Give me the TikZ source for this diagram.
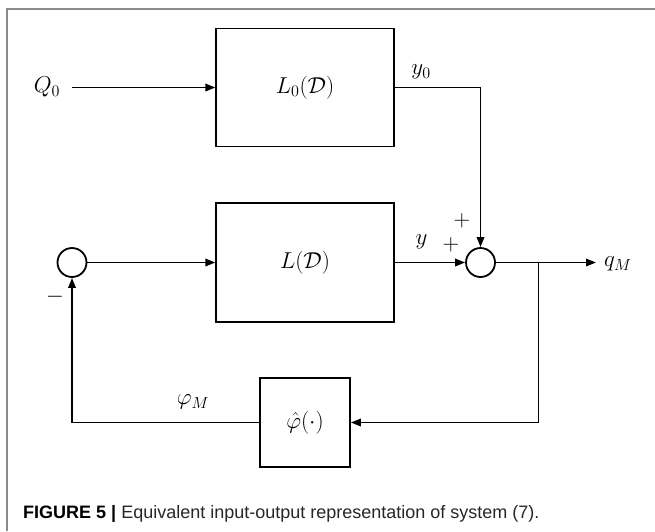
\documentclass[tikz,border=0pt]{standalone}
\usepackage{fix-cm}
\usepackage{fontspec}
\usetikzlibrary{arrows.meta,shapes.geometric}
\newfontfamily\capfont{Liberation Sans}
\begin{document}
\begin{tikzpicture}[x=1pt,y=-1pt,
  blk/.style={draw,line width=1.8pt,inner sep=0pt},
  sumnode/.style={draw,circle,line width=1.8pt,minimum size=29pt,inner sep=0pt},
  lbl/.style={inner sep=0pt,font=\fontsize{23}{26}\selectfont},
  conn/.style={line width=1.8pt},
  arr/.style={conn,-{Triangle[length=10pt,width=7.5pt]}},
  framecol/.style={draw=black!45,line width=1.5pt}]
\useasboundingbox (0,0) rectangle (655,531);
\draw[framecol] (7,531) -- (7,9) -- (655,9);
% blocks
\node[blk,minimum width=177.5pt,minimum height=118pt,lbl] (L0) at (305,87.5) {$L_0(\mathcal{D})$};
\node[blk,minimum width=177.5pt,minimum height=119pt,lbl] (L) at (305,262.5) {$L(\mathcal{D})$};
\node[blk,minimum width=90pt,minimum height=89pt,lbl] (phi) at (305,422.5) {$\hat{\varphi}(\cdot)$};
\node[sumnode] (s1) at (72,262.5) {};
\node[sumnode] (s2) at (480.5,262.5) {};
% labels
\node[lbl] (q0) at (47,87) {$Q_0$};
\node[lbl] (y0) at (421,72) {$y_0$};
\node[lbl] (y) at (421.5,242) {$y$};
\node[lbl] (p1) at (462,221) {$+$};
\node[lbl] (p2) at (451,245) {$+$};
\node[lbl] (m1) at (55,297) {$-$};
\node[lbl,anchor=west] (qm) at (604,264) {$q_M$};
\node[lbl] (phim) at (193,402) {$\varphi_M$};
\coordinate (qin) at (72,87.5);
\coordinate (out) at (596,262.5);
\coordinate (br) at (538.5,262.5);
% connectors
\draw[arr] (qin) -- (L0.west);
\draw[arr] (L0.east) -| (s2.north);
\draw[arr] (s1.east) -- (L.west);
\draw[arr] (L.east) -- (s2.west);
\draw[arr] (s2.east) -- (out);
\draw[arr] (br) |- (phi.east);
\draw[arr] (phi.west) -| (s1.south);
% caption
\node[anchor=base west,inner sep=0pt,font=\capfont\fontsize{18}{21}\selectfont] (cap) at (23,518) {\textbf{FIGURE 5 |} \color{black!85}Equivalent input-output representation of system (7).};
\end{tikzpicture}
\end{document}
